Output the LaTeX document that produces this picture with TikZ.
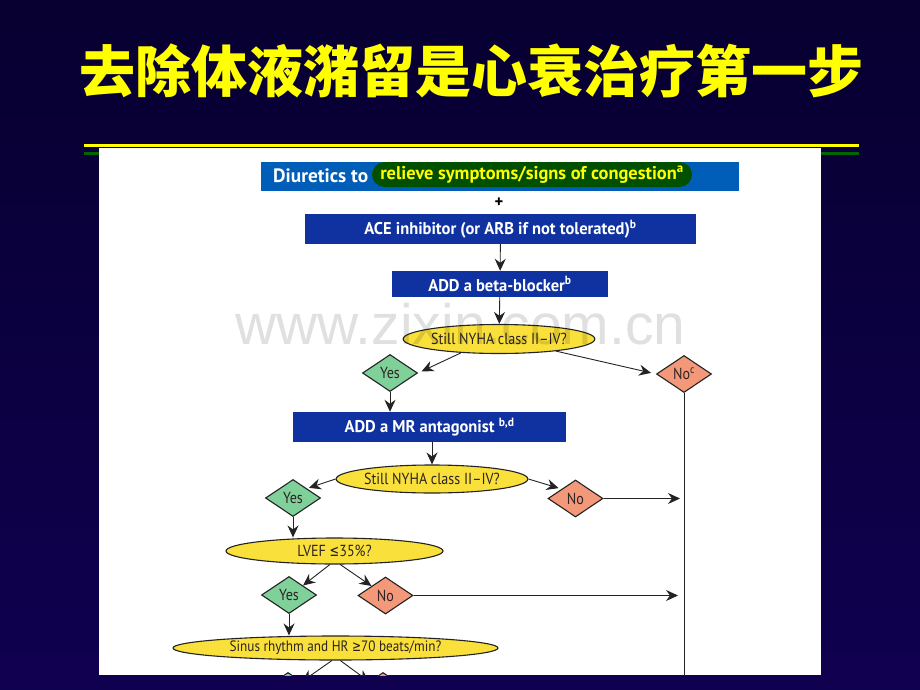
\documentclass[tikz,border=0pt]{standalone}
\usepackage{fontspec}
\usetikzlibrary{arrows.meta,positioning,shapes.geometric,calc}
\setmainfont{PT Sans}
\newfontfamily\chartfont[FakeStretch=0.88]{PT Sans}
\newfontfamily\boxfont[FakeStretch=0.97]{PT Sans}
\newfontfamily\headfont{PT Sans}
\newfontfamily\symfont[FakeStretch=0.72]{DejaVu Sans}
\newfontfamily\cjk{Noto Sans CJK SC}
\newfontfamily\markfont{Liberation Sans}
\definecolor{SlideTop}{RGB}{7,0,48}
\definecolor{SlideBottom}{RGB}{16,0,80}
\definecolor{TitleYellow}{RGB}{255,255,0}
\definecolor{RuleGreen}{RGB}{0,102,0}
\definecolor{DiurBlue}{RGB}{0,94,184}
\definecolor{HiGreen}{RGB}{0,80,0}
\definecolor{BoxBlue}{RGB}{16,50,160}
\definecolor{AskYellow}{RGB}{250,224,58}
\definecolor{YesGreen}{RGB}{128,208,154}
\definecolor{NoSalmon}{RGB}{244,152,122}
\definecolor{InkDark}{RGB}{45,35,35}
\definecolor{LineGrey}{RGB}{35,35,35}

\begin{document}
\begin{tikzpicture}[x=1pt, y=-1pt, >={Stealth[length=12pt,width=11pt,inset=4pt]},
    bluebox/.style={rectangle, fill=BoxBlue, text=white, inner sep=0pt,
      font=\boxfont\bfseries\fontsize{17}{19}\selectfont},
    question/.style={ellipse, draw=LineGrey, line width=1.1pt, fill=AskYellow, inner sep=0pt,
      text=InkDark, font=\chartfont\fontsize{16}{18}\selectfont},
    yesbox/.style={diamond, draw=LineGrey, line width=1.1pt, fill=YesGreen, inner sep=0pt,
      minimum width=55pt, minimum height=37pt, text=InkDark, font=\chartfont\fontsize{16}{18}\selectfont},
    nobox/.style={yesbox, fill=NoSalmon},
    link/.style={->, draw=LineGrey, line width=0.9pt}]
  \useasboundingbox (0,0) rectangle (920,690);
  \shade[top color=SlideTop, bottom color=SlideBottom] (0,0) rectangle (920,690);
  \node[text=TitleYellow, font=\cjk\bfseries\fontsize{56}{60}\selectfont] (title) at (471,71) {去除体液潴留是心衰治疗第一步};
  \fill[TitleYellow] (84,144) rectangle (859,147);
  \fill[RuleGreen] (84,152) rectangle (859,155);
  \fill[white] (99,148) rectangle (821,675);

  \begin{scope}
    \clip (99,148) rectangle (821,675);
    \node[rectangle, fill=DiurBlue, minimum width=478pt, minimum height=29pt] (diur) at (500,176.5) {};
    \node[anchor=base west, inner sep=0pt, text=white, font=\headfont\bfseries\fontsize{19.3}{21}\selectfont] (diurlbl) at (273,182) {Diuretics to};
    \node[rectangle, rounded corners=12.5pt, fill=HiGreen, minimum width=320pt, minimum height=25pt, inner sep=0pt,
      text height=13pt, text depth=4pt, text=TitleYellow, font=\headfont\bfseries\fontsize{18.4}{21}\selectfont] (congest) at (532,174.5) {relieve symptoms/signs of congestion\textsuperscript{a}};
    \node[font=\boxfont\bfseries\fontsize{17}{17}\selectfont] (plus) at (499,203) {+};

    \node[bluebox, minimum width=391pt, minimum height=30pt] (ace) at (500.5,229) {ACE inhibitor (or ARB if not tolerated)\textsuperscript{b}};
    \node[bluebox, minimum width=216pt, minimum height=26pt] (beta) at (500,284) {ADD a beta-blocker\textsuperscript{b}};
    \node[question, minimum width=181pt, minimum height=29pt] (q1) at (499,339) {Still NYHA class II–IV?};
    \node[yesbox] (yes1) at (390,373) {Yes};
    \node[nobox] (no1) at (684,374) {No\textsuperscript{c}};
    \node[bluebox, minimum width=273pt, minimum height=30pt] (mra) at (429.5,427) {ADD a MR antagonist \textsuperscript{b,d}};
    \node[question, minimum width=180pt, minimum height=28pt] (q2) at (432,479) {Still NYHA class II–IV?};
    \node[yesbox] (yes2) at (293,498) {Yes};
    \node[nobox] (no2) at (575.5,498.5) {No};
    \node[question, minimum width=217pt, minimum height=26pt] (q3) at (334.5,551) {LVEF {\symfont ≤}35\%?};
    \node[yesbox] (yes3) at (289,595) {Yes};
    \node[nobox] (no3) at (385.5,595.5) {No};
    \node[question, minimum width=325pt, minimum height=24pt, font=\chartfont\fontsize{15}{17}\selectfont] (q4) at (335.5,648) {Sinus rhythm and HR {\symfont ≥}70 beats/min?};
    \node[yesbox] (yes4) at (288,691) {};
    \node[nobox] (no4) at (383,691) {};

    \draw[link] (ace) -- (beta);
    \draw[link] (beta) -- (q1);
    \draw[link, shorten >=4pt] (q1.200) -- (yes1.east);
    \draw[link, shorten >=5pt] (q1.348) -- (no1.west);
    \draw[draw=LineGrey, line width=0.9pt] (no1.south) -- ++(0,320);
    \draw[link] (yes1.south) -- (yes1.south |- mra.north);
    \draw[link] (q2.north |- mra.south) -- (q2.north);
    \draw[link, shorten >=2pt] (q2.west) -- (yes2.north east);
    \draw[link, shorten >=3pt] (q2.east) -- (no2.north west);
    \draw[link, shorten >=4pt] (no2.east) -- (no2.east -| no1.south);
    \draw[link] (yes2.south) -- (yes2.south |- q3.north);
    \draw[link] (q3.251) -- (yes3.north east);
    \draw[link] (q3.293) -- (no3.north west);
    \draw[link, shorten >=6pt] (no3.east) -- (no3.east -| no1.south);
    \draw[link] (yes3.south) -- (yes3.south |- q4.north);
    \draw[link] (q4.254) -- (yes4.north east);
    \draw[link] (q4.291) -- (no4.north west);

    % site watermark
    \node[anchor=base, text=black, text opacity=0.12, font=\markfont\fontsize{57}{57}\selectfont] (mark) at (460.5,344) {www.zixin.com.cn};
  \end{scope}
\end{tikzpicture}
\end{document}
